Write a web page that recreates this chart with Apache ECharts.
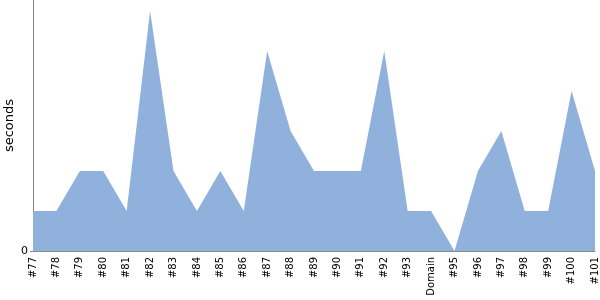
<!DOCTYPE html>
<html><head><meta charset="utf-8">
<script src="https://cdn.jsdelivr.net/npm/echarts@6/dist/echarts.min.js"></script>
<style>html,body{margin:0;padding:0;background:#fff}#c{width:600px;height:300px}</style>
</head><body><div id="c"></div>
<script>
const categories = ['#77','#78','#79','#80','#81','#82','#83','#84','#85','#86','#87','#88','#89','#90','#91','#92','#93','Domain','#95','#96','#97','#98','#99','#100','#101'];
const seconds = [1,1,2,2,1,6,2,1,2,1,5,3,2,2,2,5,1,1,0,2,3,1,1,4,2];
const yTicks = [0];
const chart = echarts.init(document.getElementById('c'), null, {renderer:'canvas'});
chart.setOption({
  animation:false,
  grid:{left:33,right:5,top:0,bottom:49,containLabel:false,outerBoundsMode:'none'},
  xAxis:{type:'category',data:categories,boundaryGap:false,
    axisLine:{lineStyle:{color:'#888'}},
    axisTick:{show:false},
    axisLabel:{rotate:90,margin:6,color:'#000',fontSize:10,fontFamily:'DejaVu Sans',interval:0}},
  yAxis:{type:'value',min:0,max:6.275,name:'seconds',nameLocation:'middle',nameGap:17,nameMoveOverlap:false,
    nameTextStyle:{color:'#000',fontSize:13,fontFamily:'DejaVu Sans'},
    axisLine:{show:true,lineStyle:{color:'#888'}},
    axisTick:{show:true,length:3,customValues:yTicks,lineStyle:{color:'#888'}},
    axisLabel:{customValues:yTicks,color:'#000',fontSize:11,fontFamily:'DejaVu Sans',margin:5},
    splitLine:{show:false}},
  series:[{type:'line',data:seconds,symbol:'none',lineStyle:{width:0},
    areaStyle:{color:'#8fb1dc',opacity:1}}]
});
</script></body></html>
